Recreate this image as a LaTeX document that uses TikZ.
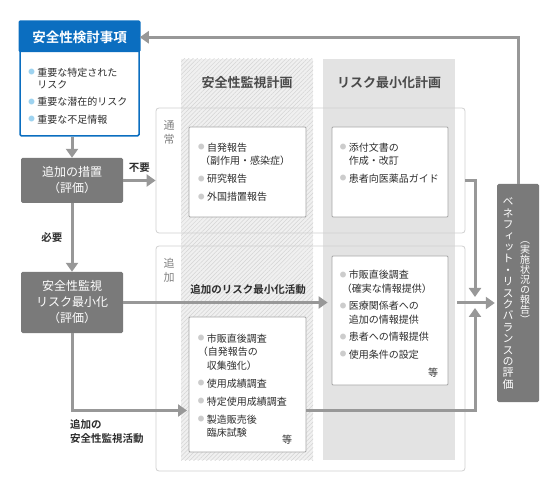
\documentclass[tikz,border=0pt]{standalone}
\usepackage{fontspec}
\setmainfont{Noto Sans CJK JP}[BoldFont={Noto Sans CJK JP Bold}]
\newfontfamily\vjp{Noto Sans CJK JP}[RawFeature=+vert]
\usetikzlibrary{arrows.meta,patterns.meta,calc,positioning}

\definecolor{jpblue}{HTML}{0B6EC0}
\definecolor{dotblue}{HTML}{9ED3F0}
\definecolor{boxgray}{HTML}{7A7A7A}
\definecolor{arrgray}{HTML}{989898}
\definecolor{colgray}{HTML}{E3E3E3}
\definecolor{hatchbg}{HTML}{F0F0F0}
\definecolor{hatchln}{HTML}{D4D4D4}
\definecolor{panelln}{HTML}{D0D0D0}
\definecolor{dotgray}{HTML}{CCCCCC}
\definecolor{txtgray}{HTML}{2E2E2E}
\definecolor{headgray}{HTML}{4A4A4A}

% bullets
\newcommand\dotb[1]{\makebox[9pt][l]{\raisebox{1.2pt}{\fontsize{6.5}{6}\selectfont\textcolor{#1}{●}}}}
\newcommand\gdot{\dotb{dotgray}}
\newcommand\bdot{\dotb{dotblue}}
\newcommand\ind{\hspace*{9pt}}

\tikzset{
  arr/.style={draw=arrgray, line width=3pt, -{Triangle[width=12pt,length=9pt]}},
  graybox/.style={fill=boxgray, rounded corners=1.5pt, text=white, align=center,
    font=\fontsize{12}{16}\selectfont, inner sep=0pt},
  itembox/.style={draw=gray!70, fill=white, rounded corners=1pt, line width=0.8pt, inner sep=0pt},
  items/.style={anchor=north west, align=left, inner sep=0pt, text=txtgray,
    font=\fontsize{10}{13.5}\selectfont},
  panel/.style={draw=panelln, rounded corners=3pt, line width=0.8pt, inner sep=0pt},
  colhead/.style={font=\bfseries\fontsize{13}{13}\selectfont, text=headgray, inner sep=0pt},
  lab/.style={font=\bfseries\fontsize{10.5}{13.5}\selectfont, text=txtgray, inner sep=0pt},
  side/.style={font=\fontsize{11}{14}\selectfont, text=gray, align=center, inner sep=0pt},
}

\begin{document}
\begin{tikzpicture}[x=1pt,y=-1pt]
\useasboundingbox (0,0) rectangle (560,489);

% plan columns
\node[minimum width=132pt, minimum height=401pt, fill=hatchbg, inner sep=0pt,
  postaction={pattern={Lines[angle=45,distance=3pt,line width=0.5pt]}, pattern color=hatchln}]
  (scol) at (247,259.5) {};
\node[minimum width=132pt, minimum height=401pt, fill=colgray, inner sep=0pt] (rcol) at (389,259.5) {};
\node[colhead] (shead) at (247,83) {安全性監視計画};
\node[colhead] (rhead) at (389,83) {リスク最小化計画};

% panels
\node[panel, minimum width=309pt, minimum height=125pt] (pnorm) at (310.5,170.5) {};
\node[panel, minimum width=309pt, minimum height=225pt] (padd) at (310.5,358.5) {};
\node[side] (lnorm) at (169,132) {通\\常};
\node[side] (ladd) at (169,270) {追\\加};

% activity boxes
\node[itembox, minimum width=117pt, minimum height=90pt] (n1) at (247.5,172) {};
\node[itembox, minimum width=116pt, minimum height=90pt] (n2) at (390,172) {};
\node[itembox, minimum width=116pt, minimum height=129pt] (a2) at (390,320.5) {};
\node[itembox, minimum width=117pt, minimum height=135pt] (a1) at (247.5,384.5) {};

\node[items] (t1) at (198,142.5) {\gdot 自発報告\\\hspace*{2pt}（副作用・感染症）\\[4.5pt]\gdot 研究報告\\[4.5pt]\gdot 外国措置報告};
\node[items] (t2) at (339.75,142.5) {\gdot 添付文書の\\\ind 作成・改訂\\[4pt]\gdot 患者向医薬品ガイド};
\node[items] (t3) at (339.75,270) {\gdot 市販直後調査\\\hspace*{2pt}（確実な情報提供）\\[4pt]\gdot 医療関係者への\\\ind 追加の情報提供\\[4pt]\gdot 患者への情報提供\\[4pt]\gdot 使用条件の設定};
\node[items, anchor=center] (e3) at (433,373) {等};
\node[items] (t4) at (197.75,333.5) {\gdot 市販直後調査\\（自発報告の\\\ind 収集強化）\\[4.5pt]\gdot 使用成績調査\\[4.5pt]\gdot 特定使用成績調査\\[4.5pt]\gdot 製造販売後\\\ind 臨床試験};
\node[items, anchor=center] (e4) at (287,440) {等};

% review items
\node[draw=jpblue, line width=1.5pt, fill=white, minimum width=119pt, minimum height=114pt,
  rounded corners=1.5pt, inner sep=0pt] (rev) at (79.5,79) {};
\fill[jpblue, rounded corners=1.5pt] ([xshift=-0.75pt,yshift=0.75pt]rev.north west) rectangle ([xshift=0.75pt,yshift=-31pt]rev.north east);
\node[font=\bfseries\fontsize{13.5}{14}\selectfont, text=white, inner sep=0pt] (revhead) at (79.5,37.5) {安全性検討事項};
\node[items, font=\fontsize{10}{12}\selectfont] (revtxt) at (28.25,67.5) {\bdot 重要な特定された\\\ind リスク\\[5.5pt]\bdot 重要な潜在的リスク\\[5.5pt]\bdot 重要な不足情報};

% evaluation boxes
\node[graybox, minimum width=102pt, minimum height=45pt] (meas) at (72,180.5) {追加の措置\\（評価）};
\node[graybox, minimum width=102pt, minimum height=61pt] (eval) at (72,302.5) {安全性監視\\リスク最小化\\（評価）};
\node[graybox, minimum width=42pt, minimum height=218pt] (br) at (518,293) {};
\node[text=white, font=\vjp\fontsize{11}{11.4}\selectfont, align=center, inner sep=0pt] (brmain) at (508,293.5)
  {ベ\\ネ\\フ\\ィ\\ッ\\ト\\・\\リ\\ス\\ク\\バ\\ラ\\ン\\ス\\の\\評\\価};
\node[text=white, font=\vjp\fontsize{10}{10}\selectfont, align=center, inner sep=0pt] (brsub) at (525,282.5)
  {（\\実\\施\\状\\況\\の\\報\\告\\）};

% connectors
\coordinate (join) at (475,303);
\coordinate (safein) at (187,410.5);
\draw[arr] (br.north) |- ([yshift=-16pt]rev.north east);
\draw[arr] (rev.south -| meas.north) -- (meas.north);
\draw[arr] (meas.east) -- node[lab, above=7pt] (nolab) {不要} (meas.east -| pnorm.west);
\draw[arr] (meas.south) -- node[lab, left=8pt] (needlab) {必要} (eval.north);
\draw[arr] (eval.east) -- ([xshift=-4pt]eval.east -| a2.west);
\node[lab] (risklab) at (248,290) {追加のリスク最小化活動};
\draw[arr] (eval.south) |- (safein);
\node[lab, anchor=north west, align=left] (safelab) at (70,419.5) {追加の\\安全性監視活動};
\draw[arr] (pnorm.east |- meas.east) -| ([yshift=6pt]join);
\draw[arr] (a1.east |- safein) -| ([yshift=-5pt]join);
\draw[arr] ([xshift=2pt]rcol.east |- join) -- ([xshift=-2pt]br.west |- join);
\end{tikzpicture}
\end{document}
